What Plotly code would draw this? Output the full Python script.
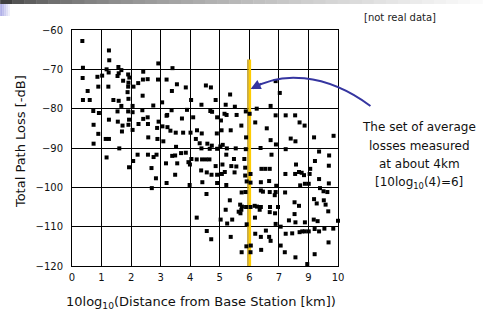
import plotly.graph_objects as go

# ---------------- data ----------------
x_tick_vals = [0, 1, 2, 3, 4, 5, 6, 7, 8, 9]
x_tick_text = ["0", "1", "2", "3", "4", "5", "6", "7", "9", "10"]
y_tick_vals = [-120, -110, -100, -90, -80, -70, -60]

loss_x = [
    0.35, 1.25, 1.26, 2.92, 0.37, 1.17, 1.57, 1.67, 3.40, 0.36, 0.86, 1.02, 1.24, 1.54, 1.58, 1.90,
    1.94, 1.73, 2.41, 2.40, 2.56, 2.91, 3.20, 2.24, 1.91, 0.89, 1.23, 1.90, 2.08, 3.55, 3.85, 0.53,
    1.88, 3.38, 2.39, 0.37, 0.60, 1.40, 1.58, 1.91, 2.05, 2.75, 3.05, 4.03, 0.72, 0.91, 1.54, 1.67,
    1.90, 2.05, 2.38, 3.22, 3.37, 3.89, 1.25, 1.55, 1.93, 2.41, 2.56, 2.93, 3.20, 3.72, 4.10, 0.73,
    1.71, 1.91, 2.25, 2.57, 2.88, 3.06, 3.23, 0.89, 1.69, 2.05, 3.33, 3.51, 3.76, 4.01, 4.23, 1.14,
    1.25, 2.58, 2.89, 3.09, 4.19, 0.73, 4.32, 1.60, 3.52,
    6.89, 4.53, 4.70, 7.03, 5.35, 4.86, 4.38, 5.20, 5.51, 6.72, 4.68, 4.74, 5.16, 5.23, 5.57, 5.88,
    6.01, 6.25, 6.89, 7.23, 7.55, 7.70, 7.87, 4.91, 5.04, 5.73, 6.20, 6.59, 4.39, 4.90, 5.06, 5.37,
    5.89, 6.72, 6.90, 7.40, 7.56, 8.19, 8.85, 4.58, 4.73, 5.02, 5.10, 4.38, 4.66, 4.91, 5.24, 5.54,
    5.88, 6.38, 7.23,
    1.17, 1.93, 2.07, 2.22, 2.57, 2.69, 2.76, 2.86, 2.84, 2.70, 3.18, 3.20, 3.39, 3.49, 3.56, 3.49,
    3.69, 3.85, 3.94, 3.99, 4.04, 3.98, 4.22, 4.40, 4.53, 4.65, 4.37, 4.56, 4.41, 4.55, 4.22, 4.56,
    5.22, 5.48, 5.83, 6.75, 8.36, 8.70, 4.86, 5.09, 5.39, 5.56, 5.86, 6.41, 6.54, 6.69, 7.58, 8.06,
    8.22, 8.69, 4.72, 4.91, 5.07, 5.17, 5.50, 5.86, 6.04, 7.22, 7.55, 7.68, 7.77, 7.85, 8.04, 4.91,
    5.22, 5.91, 6.04, 6.39, 6.67, 6.91, 7.72, 7.88, 8.01, 8.36, 8.69, 5.74, 5.87, 6.39, 6.46, 6.69,
    6.86, 6.89, 7.21, 8.39, 8.51, 8.64, 5.34, 5.69, 5.75, 5.73, 5.89, 6.04, 6.18, 6.26, 6.39, 6.35,
    6.70, 6.97, 7.53, 7.68, 8.19, 8.28, 8.52, 8.58, 8.67, 5.20, 5.64, 5.70, 6.19, 6.69, 6.87, 7.53,
    5.03, 5.25, 5.42, 6.89, 7.34, 7.56, 7.88, 8.18, 8.31, 9.00, 4.71, 5.37, 5.91, 6.20, 6.39, 6.56,
    6.67, 6.72, 7.06, 7.23, 7.45, 7.70, 7.79, 7.88, 8.01, 8.21, 8.36, 8.54, 8.84, 8.68, 5.90, 6.05,
    5.74, 6.04, 6.40, 7.06, 7.20, 7.56, 8.21, 7.96,
]
loss_y = [
    -62.8, -65.2, -67.7, -68.5, -69.6, -70.0, -69.4, -70.2, -69.7, -72.2, -71.9, -71.6, -70.8, -71.7, -71.0, -71.3,
    -72.1, -72.9, -70.6, -72.6, -72.5, -72.6, -72.6, -73.5, -73.4, -74.4, -74.4, -74.4, -74.4, -73.8, -74.6, -75.5,
    -75.8, -75.5, -76.7, -77.8, -77.8, -77.8, -78.0, -77.5, -79.3, -79.2, -78.4, -77.8, -80.6, -81.1, -80.7, -79.3,
    -80.7, -80.9, -80.4, -81.6, -80.4, -80.3, -82.8, -83.3, -82.8, -82.6, -82.2, -83.3, -81.8, -82.5, -82.2, -84.1,
    -84.3, -84.1, -83.9, -83.9, -84.9, -84.5, -84.7, -86.4, -85.8, -85.4, -85.6, -86.1, -86.1, -86.1, -85.5, -87.7,
    -87.7, -87.3, -87.7, -88.3, -87.7, -88.9, -88.8, -90.1, -89.7,
    -73.0, -74.1, -74.6, -76.0, -76.4, -77.8, -79.0, -79.0, -79.5, -79.3, -80.6, -80.8, -81.3, -81.6, -81.6, -80.7,
    -81.3, -80.0, -81.7, -81.7, -81.7, -83.5, -84.3, -82.2, -83.0, -84.3, -83.5, -85.0, -86.3, -86.3, -85.5, -85.5,
    -87.3, -88.0, -89.1, -87.6, -88.3, -87.3, -86.9, -88.9, -89.4, -89.6, -89.2, -90.1, -90.2, -90.2, -90.1, -90.1,
    -90.3, -90.0, -90.3,
    -92.4, -94.9, -93.3, -91.7, -91.7, -95.1, -92.3, -91.7, -97.7, -100.2, -93.9, -98.9, -92.0, -91.9, -93.9, -96.8,
    -91.3, -91.2, -93.6, -94.2, -92.8, -99.4, -92.9, -92.9, -92.9, -92.9, -95.7, -96.2, -98.7, -101.7, -107.7, -111.1,
    -91.7, -92.8, -92.8, -91.7, -90.9, -91.9, -94.6, -94.2, -94.6, -94.7, -95.0, -95.3, -95.3, -95.3, -94.2, -95.3,
    -93.3, -94.5, -96.8, -96.8, -96.6, -96.1, -96.2, -97.0, -96.6, -96.6, -96.6, -96.1, -96.3, -96.9, -96.6, -98.9,
    -99.4, -98.5, -98.8, -98.7, -98.4, -99.6, -99.5, -99.1, -99.1, -97.9, -99.0, -101.3, -101.2, -100.8, -101.1, -101.2,
    -102.0, -101.2, -101.3, -100.2, -101.0, -101.2, -103.3, -104.4, -104.9, -105.7, -105.0, -105.0, -104.7, -104.9, -105.0, -105.7,
    -105.0, -105.0, -103.8, -104.7, -103.0, -104.1, -103.3, -104.4, -106.1, -105.7, -106.2, -106.6, -107.7, -106.3, -106.6, -106.8,
    -108.2, -109.2, -108.2, -109.3, -108.4, -108.9, -108.9, -108.2, -108.6, -108.5, -113.2, -112.6, -109.4, -111.8, -112.6, -111.0,
    -112.6, -113.6, -110.0, -111.8, -111.7, -111.4, -111.2, -111.2, -111.2, -110.6, -111.2, -110.5, -110.5, -114.0, -115.0, -114.8,
    -116.5, -116.5, -115.9, -114.8, -116.5, -117.8, -117.0, -119.5,
]

highlight_x = 6
highlight_top = -67.5

# ---------------- layout helpers ----------------
W, H = 483, 314
L, R, T, B = 72, 338.5, 30, 266


def px(xp):
    return (xp - L) / (R - L)


def py(yp):
    return (B - yp) / (B - T)


FONT = "DejaVu Sans"

fig = go.Figure()
fig.add_trace(go.Scatter(
    x=loss_x, y=loss_y, mode="markers",
    marker=dict(symbol="square", size=4, color="black", line=dict(width=0)),
    cliponaxis=False, hoverinfo="skip", showlegend=False,
))

shapes = []
# yellow highlight bar
shapes.append(dict(type="rect", xref="x", yref="y", x0=highlight_x - 0.07, x1=highlight_x - 0.02,
                   y0=-120, y1=highlight_top, fillcolor="#B8900A", line=dict(width=0), layer="between"))
shapes.append(dict(type="rect", xref="x", yref="y", x0=highlight_x - 0.02, x1=highlight_x + 0.06,
                   y0=-120, y1=highlight_top, fillcolor="#FFCC00", line=dict(width=0), layer="between"))

# top gradient strip
n = 40
for i in range(n):
    t = i / (n - 1)
    g = int(64 + 186 * (t ** 0.6))
    shapes.append(dict(type="rect", xref="paper", yref="paper",
                       x0=px(i * W / n), x1=px((i + 1) * W / n + 0.5), y0=py(4), y1=py(0),
                       fillcolor=f"rgb({g},{g},{g})", line=dict(width=0), layer="above"))
# small blue square
for i in range(6):
    t = i / 5
    r = int(176 + 79 * t)
    b = int(232 + 23 * t)
    shapes.append(dict(type="rect", xref="paper", yref="paper",
                       x0=px(i * 2), x1=px(i * 2 + 2.2), y0=py(16), y1=py(4),
                       fillcolor=f"rgb({r},{r},{b})", line=dict(width=0), layer="above"))

# curved arrow
p0, c1, c2, p1 = (371, 106), (325, 72), (280, 72), (253, 88.5)
path = (f"M {px(p0[0])},{py(p0[1])} C {px(c1[0])},{py(c1[1])} {px(c2[0])},{py(c2[1])} "
        f"{px(p1[0])},{py(p1[1])}")
shapes.append(dict(type="path", xref="paper", yref="paper", path=path,
                   line=dict(color="#3535A0", width=2), layer="above"))

annotations = [
    dict(xref="paper", yref="paper", x=px(251), y=py(89), ax=12, ay=-6, text="",
         showarrow=True, arrowhead=2, arrowsize=1, arrowwidth=2, arrowcolor="#3535A0"),
    dict(xref="paper", yref="paper", x=px(401), y=py(18), text="[not real data]",
         showarrow=False, font=dict(family=FONT, size=10, color="#222"), xanchor="center", yanchor="middle"),
    dict(xref="paper", yref="paper", x=px(20), y=py(142), text="Total Path Loss [-dB]", textangle=-90,
         showarrow=False, font=dict(family=FONT, size=13, color="#111"), xanchor="center", yanchor="middle"),
    dict(xref="paper", yref="paper", x=px(201), y=py(302),
         text="10log<sub>10</sub>(Distance from Base Station [km])",
         showarrow=False, font=dict(family=FONT, size=13, color="#111"), xanchor="center", yanchor="middle"),
]
for txt, yy in [("The set of average", 127), ("losses measured", 145.5),
                ("at about 4km", 164), ("[10log<sub>10</sub>(4)=6]", 183)]:
    annotations.append(dict(xref="paper", yref="paper", x=px(420), y=py(yy), text=txt, showarrow=False,
                            font=dict(family=FONT, size=12, color="#111"), xanchor="center", yanchor="middle"))

axis_common = dict(showgrid=True, gridcolor="#000", gridwidth=1, showline=True, linecolor="#000",
                   linewidth=1, mirror=True, zeroline=False, ticks="outside", tickcolor="rgba(0,0,0,0)",
                   tickfont=dict(family=FONT, size=10, color="#111"))

fig.update_layout(
    width=W, height=H, autosize=False,
    margin=dict(l=L, r=W - R, t=T, b=H - B, pad=0),
    paper_bgcolor="white", plot_bgcolor="white",
    xaxis=dict(range=[0, 9], tickmode="array", tickvals=x_tick_vals, ticktext=x_tick_text,
               ticklen=2, **axis_common),
    yaxis=dict(range=[-120, -60], tickmode="array", tickvals=y_tick_vals,
               ticklen=6, **axis_common),
    shapes=shapes, annotations=annotations, showlegend=False,
)

fig.write_html("out.html", config={"displayModeBar": False},
               post_script="document.body.style.margin='0';document.body.style.padding='0';")
